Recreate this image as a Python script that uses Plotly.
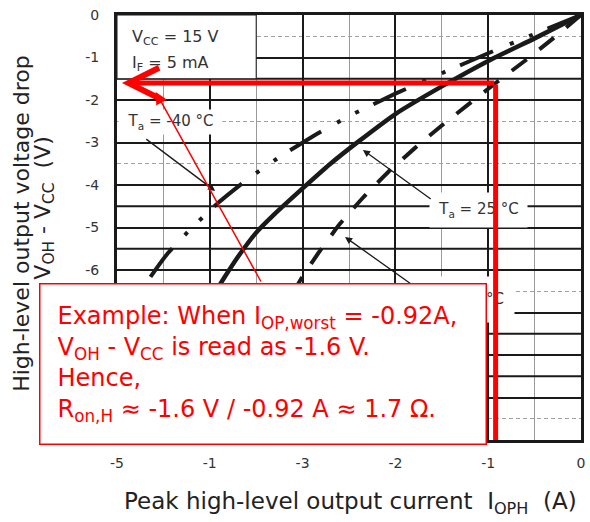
import plotly.graph_objects as go

# ---- curve data: peak high-level output current I_OPH (A) vs. V_OH - V_CC (V) ----
# Ta = -40 degC (dash-dot)
i_cold = [0, -0.56, -1.0, -1.5, -2.0, -2.5, -2.87, -3.22, -3.58, -3.9, -4.2, -4.45, -4.65, -4.75]
v_cold = [0, -0.5, -0.9, -1.37, -1.85, -2.38, -2.83, -3.3, -3.84, -4.4, -5.02, -5.6, -6.2, -6.6]

# Ta = 25 degC (solid)
i_room = [0, -0.5, -1.0, -1.5, -2.0, -2.4, -2.7, -3.0, -3.3, -3.5, -3.7, -3.85, -3.95]
v_room = [0, -0.55, -1.08, -1.68, -2.33, -2.98, -3.5, -4.08, -4.68, -5.12, -5.7, -6.2, -6.55]

# Ta = 110 degC (dashed)
i_hot = [0, -0.3, -0.6, -0.92, -1.2, -1.5, -1.8, -2.08, -2.35, -2.6, -2.83, -3.0, -3.12]
v_hot = [0, -0.55, -1.07, -1.6, -2.08, -2.6, -3.15, -3.7, -4.3, -4.92, -5.6, -6.15, -6.6]

# axis ticks
x_tick_vals = [-5, -4, -3, -2, -1, 0]
x_tick_text = ["-5", "-1", "-3", "-2", "-1", "0"]
y_tick_vals = [0, -1, -2, -3, -4, -5, -6, -7, -8, -9, -10]
y_tick_text = ["0", "-1", "-2", "-3", "-4", "-5", "-6", "-7", "-8", "-9", "-10"]

# half-volt rules printed in heavy weight
y_heavy_half = [-1.5, -4.5, -5.5, -7.5, -8.5]

# worked example on the worst-case (hot) curve
i_op_worst = -0.92
v_drop = -1.6

INK = "#1a1a1a"
RED = "#ff0000"
FONT = "DejaVu Sans"

fig = go.Figure()

fig.add_trace(go.Scatter(
    x=i_cold, y=v_cold, mode="lines", hoverinfo="skip",
    line=dict(color=INK, width=4, dash="36px,16px,4px,17px,4px,18px",
              shape="spline", smoothing=0.4)))
fig.add_trace(go.Scatter(
    x=i_room, y=v_room, mode="lines", hoverinfo="skip",
    line=dict(color=INK, width=4.5, shape="spline", smoothing=0.4)))
fig.add_trace(go.Scatter(
    x=i_hot, y=v_hot, mode="lines", hoverinfo="skip",
    line=dict(color=INK, width=4, dash="19px,16px", shape="spline", smoothing=0.4)))

# heavy half-volt grid rules
for yv in y_heavy_half:
    fig.add_shape(type="line", xref="x", yref="y", x0=-5, x1=0, y0=yv, y1=yv,
                  layer="between", line=dict(color=INK, width=2))

# test-condition box in the top-left corner
fig.add_shape(type="rect", xref="x", yref="y", x0=-5, x1=-3.5, y0=-1.5, y1=0,
              layer="above", fillcolor="white", line=dict(color=INK, width=1))

ann = []
ann.append(dict(xref="x", yref="y", x=-4.86, y=-0.52, xanchor="left", yanchor="middle",
                text="V<sub>CC</sub> = 15 V", showarrow=False,
                font=dict(family=FONT, size=16, color="#333")))
ann.append(dict(xref="x", yref="y", x=-4.86, y=-1.13, xanchor="left", yanchor="middle",
                text="I<sub>F</sub> = 5 mA", showarrow=False,
                font=dict(family=FONT, size=16, color="#333")))

# temperature labels (white backing over the grid)
label_font = dict(family=FONT, size=15, color="#333")
ann.append(dict(xref="x", yref="y", x=-4.42, y=-2.52, text="T<sub>a</sub> = -40 °C",
                showarrow=False, bgcolor="white", width=103, height=24, borderpad=0,
                font=label_font))
ann.append(dict(xref="x", yref="y", x=-1.106, y=-4.588, text="T<sub>a</sub> = 25 °C",
                showarrow=False, bgcolor="white", width=97, height=34, borderpad=0,
                font=label_font))
ann.append(dict(xref="x", yref="y", x=-1.314, y=-6.694, text="T<sub>a</sub> = 110 °C",
                showarrow=False, bgcolor="white", width=110, height=45, borderpad=0,
                font=label_font))

# leader arrows from labels to curves
for (tx, ty, hx, hy) in [(-4.701, -2.894, -3.942, -4.141),
                         (-1.603, -4.353, -2.350, -3.176),
                         (-1.709, -6.518, -2.543, -5.224)]:
    ann.append(dict(xref="x", yref="y", axref="x", ayref="y", x=hx, y=hy, ax=tx, ay=ty,
                    text="", showarrow=True, arrowhead=2, arrowsize=1.1,
                    arrowwidth=1.3, arrowcolor=INK))

# worked-example read-off lines
ann.append(dict(xref="x", yref="y", axref="x", ayref="y", x=i_op_worst, y=-10,
                ax=i_op_worst, ay=v_drop, text="", showarrow=True, arrowhead=0,
                arrowwidth=5, arrowcolor=RED))
ann.append(dict(xref="x", yref="y", axref="x", ayref="y", x=-4.947, y=v_drop,
                ax=i_op_worst, ay=v_drop, text="", showarrow=True, arrowhead=5,
                arrowsize=1.2, arrowwidth=5, arrowcolor=RED))
ann.append(dict(xref="x", yref="y", axref="x", ayref="y", x=-4.583, y=-1.812,
                ax=-3.44, ay=-6.306, text="", showarrow=True, arrowhead=2,
                arrowsize=1.6, arrowwidth=1.5, arrowcolor=RED))

# explanation box
note = ("Example: When I<sub>OP,worst</sub> = -0.92A,<br>"
        "V<sub>OH</sub> - V<sub>CC</sub> is read as -1.6 V.<br>"
        "Hence,<br>"
        "R<sub>on,H</sub> ≈ -1.6 V / -0.92 A ≈ 1.7 Ω.")
ann.append(dict(xref="paper", yref="paper", x=(38 - 117) / 468, y=(440 - 283) / 425,
                xanchor="left", yanchor="top", text=note, align="left",
                showarrow=False, bgcolor="white", bordercolor=RED, borderwidth=1.5,
                borderpad=17, width=411,
                font=dict(family=FONT, size=24, color=RED)))

# axis titles
ann.append(dict(xref="paper", yref="paper", x=(20 - 117) / 468, y=(440 - 223) / 425,
                text="High-level output voltage drop", textangle=-90, showarrow=False,
                xanchor="center", yanchor="middle",
                font=dict(family=FONT, size=22, color="#222")))
ann.append(dict(xref="paper", yref="paper", x=(43 - 117) / 468, y=(440 - 208) / 425,
                text="V<sub>OH</sub> - V<sub>CC</sub>  (V)", textangle=-90, showarrow=False,
                xanchor="center", yanchor="middle",
                font=dict(family=FONT, size=22, color="#222")))
ann.append(dict(xref="paper", yref="paper", x=(353 - 117) / 468, y=(440 - 503) / 425,
                text="Peak high-level output current  I<sub>OPH</sub>  (A)", showarrow=False,
                xanchor="center", yanchor="middle",
                font=dict(family=FONT, size=23, color="#222")))

fig.update_layout(annotations=ann)

fig.update_layout(
    width=590, height=522,
    margin=dict(l=117, r=5, t=15, b=82),
    plot_bgcolor="white", paper_bgcolor="white",
    showlegend=False,
    font=dict(family=FONT, color="#222"),
)
fig.update_xaxes(
    range=[-5, 0], tickvals=x_tick_vals, ticktext=x_tick_text,
    showgrid=True, gridcolor=INK, gridwidth=2,
    minor=dict(dtick=0.5, tick0=0, showgrid=True, gridcolor="#9a9a9a", gridwidth=1),
    showline=True, mirror=True, linecolor=INK, linewidth=3,
    zeroline=False, ticks="", ticklabelstandoff=8,
    tickfont=dict(family=FONT, size=14, color="#333"),
)
fig.update_yaxes(
    range=[-10, 0], tickvals=y_tick_vals, ticktext=y_tick_text,
    showgrid=True, gridcolor=INK, gridwidth=2,
    minor=dict(dtick=0.5, tick0=0, showgrid=True, gridcolor="#a0a0a0", gridwidth=1,
               griddash="4px,3px"),
    showline=True, mirror=True, linecolor=INK, linewidth=3,
    zeroline=False, ticks="", ticklabelstandoff=12,
    tickfont=dict(family=FONT, size=14, color="#333"),
)

fig.write_html("out.html")
